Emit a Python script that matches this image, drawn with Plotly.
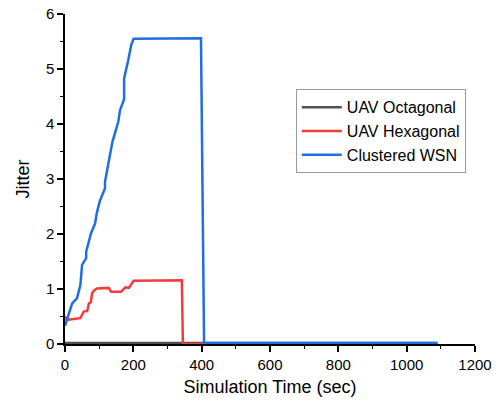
import plotly.graph_objects as go

# Data
oct_t = [0, 100, 200, 300, 400, 500, 600, 700, 800, 900, 1000, 1090]
oct_y = [0.02, 0.02, 0.02, 0.02, 0.02, 0.02, 0.02, 0.02, 0.02, 0.02, 0.02, 0.02]

hex_t = [0, 6, 45, 55, 65, 70, 76, 79, 86, 94, 128, 135, 164, 177, 187, 201, 342, 345, 400, 1090]
hex_y = [0.5, 0.44, 0.47, 0.59, 0.6, 0.74, 0.76, 0.92, 0.98, 1.01, 1.02, 0.95, 0.95, 1.03, 1.02, 1.15, 1.16, 0.0, 0.0, 0.0]

wsn_t = [0, 21, 35, 45, 50, 62, 62, 76, 88, 93, 102, 117, 117, 131, 139, 156, 161, 173, 173, 185, 194, 201, 398, 407, 1090]
wsn_y = [0.33, 0.74, 0.83, 1.07, 1.44, 1.56, 1.68, 2.01, 2.19, 2.38, 2.60, 2.83, 2.95, 3.41, 3.68, 4.04, 4.25, 4.45, 4.83, 5.16, 5.44, 5.55, 5.56, 0.025, 0.02]

names = ["UAV Octagonal", "UAV Hexagonal", "Clustered WSN"]
colors = ["#505050", "#f03c3c", "#1f6fe0"]

fig = go.Figure()
for t, y, n, c in [(oct_t, oct_y, names[0], colors[0]),
                   (hex_t, hex_y, names[1], colors[1]),
                   (wsn_t, wsn_y, names[2], colors[2])]:
    fig.add_trace(go.Scatter(x=t, y=y, mode="lines", name=n,
                             line=dict(color=c, width=2.5)))

font = "Liberation Sans, Arial, sans-serif"
fig.update_layout(
    width=496, height=403,
    margin=dict(l=64.5, r=20.5, t=14, b=59, autoexpand=False),
    paper_bgcolor="white", plot_bgcolor="white",
    font=dict(family=font, size=15, color="#000"),
    showlegend=True,
    legend=dict(x=0.563, y=0.772, xanchor="left", yanchor="top",
                bgcolor="white", bordercolor="#999", borderwidth=1,
                font=dict(size=16, family=font), tracegroupgap=0,
                itemwidth=40),
)
fig.update_xaxes(
    range=[0, 1200], tickvals=[0, 200, 400, 600, 800, 1000, 1200],
    showgrid=False, zeroline=False, showline=True, linecolor="#000", linewidth=1.5,
    ticks="outside", ticklen=6, tickwidth=1.5, tickcolor="#000", automargin=False,
    minor=dict(dtick=100, ticks="outside", ticklen=3, tickwidth=1.2, tickcolor="#000", showgrid=False),
    title=dict(text="Simulation Time (sec)", font=dict(size=18, family=font), standoff=9),
    tickfont=dict(size=15),
)
fig.update_yaxes(
    range=[0, 6], tickvals=[0, 1, 2, 3, 4, 5, 6],
    showgrid=False, zeroline=False, showline=True, linecolor="#000", linewidth=1.5,
    ticks="outside", ticklen=6, tickwidth=1.5, tickcolor="#000", automargin=False,
    minor=dict(dtick=0.5, ticks="outside", ticklen=3, tickwidth=1.2, tickcolor="#000", showgrid=False),
    title=dict(text="Jitter", font=dict(size=18, family=font), standoff=12),
    tickfont=dict(size=15),
)

fig.write_html("out.html")
